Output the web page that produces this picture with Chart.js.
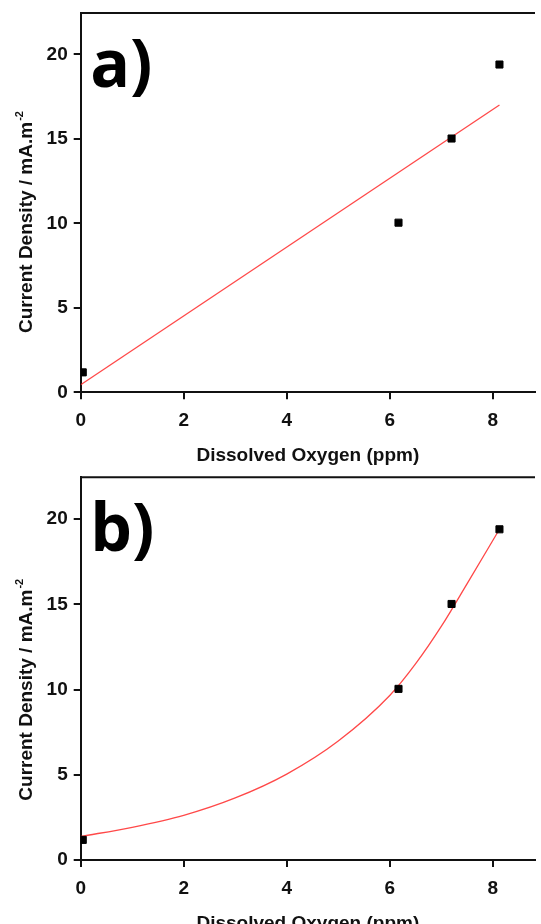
<!DOCTYPE html>
<html>
<head>
<meta charset="utf-8">
<title>Current density vs dissolved oxygen</title>
<script src="https://cdn.jsdelivr.net/npm/chart.js@4.4.1/dist/chart.umd.min.js"></script>
<style>
  body { margin: 0; background: #fff; overflow: hidden; }
  canvas { display: block; }
</style>
</head>
<body>
<canvas id="chartA" width="541" height="467"></canvas>
<canvas id="chartB" width="541" height="468"></canvas>
<script>
// values
const xTicks = [0, 2, 4, 6, 8]
const yTicks = [0, 5, 10, 15, 20]
const oxygenPpm = [0.04, 6.17, 7.2, 8.13]
const currentDensity = [1.18, 10.04, 15.02, 19.4]
const linearFitX = [0, 8.13]
const linearFitY = [0.45, 17.0]
const expFitX = [0, 1, 2, 3, 4, 5, 6, 6.5, 7, 7.5, 8.13]
const expFitY = [1.38, 1.92, 2.62, 3.64, 5.04, 6.98, 9.65, 11.5, 13.7, 16.2, 19.4]

const FONT = "'Liberation Sans', Arial, sans-serif"
const INK = '#111'

const toPoints = (xs, ys) => xs.map((x, i) => ({ x, y: ys[i] }))

// top frame, panel letter and the y title (with superscript)
const panelDecor = {
  id: 'panelDecor',
  afterDraw(chart, args, opts) {
    const { ctx, chartArea: { left, right, top, bottom } } = chart
    ctx.save()

    ctx.strokeStyle = INK
    ctx.lineWidth = 2
    ctx.beginPath()
    ctx.moveTo(left, top)
    ctx.lineTo(right, top)
    ctx.stroke()

    ctx.fillStyle = '#000'
    ctx.font = "bold 66px 'Open Sans', sans-serif"
    ctx.textBaseline = 'alphabetic'
    ctx.textAlign = 'left'
    ctx.fillText(opts.letter, left + 9.5, top + 73.5)

    ctx.translate(32, bottom - 59.3)
    ctx.rotate(-Math.PI / 2)
    ctx.fillStyle = INK
    ctx.font = 'bold 19px ' + FONT
    const main = 'Current Density / mA.m'
    ctx.fillText(main, 0, 0)
    const w = ctx.measureText(main).width
    ctx.font = 'bold 11px ' + FONT
    ctx.fillText('-2', w + 1, -9)

    ctx.restore()
  },
}

const makePanel = (id, fitX, fitY, letter, padTop, xAxisHeight) => new Chart(document.getElementById(id), {
  type: 'scatter',
  data: {
    datasets: [
      {
        data: toPoints(oxygenPpm, currentDensity),
        pointStyle: 'rect',
        pointRadius: 5,
        backgroundColor: '#000',
        borderColor: '#000',
        borderWidth: 1,
        order: 0,
      },
      {
        data: toPoints(fitX, fitY),
        showLine: true,
        borderColor: 'rgba(255, 40, 40, 0.85)',
        borderWidth: 1.3,
        pointRadius: 0,
        cubicInterpolationMode: 'monotone',
        order: 1,
      },
    ],
  },
  options: {
    responsive: false,
    animation: false,
    events: [],
    layout: { padding: { top: padTop, left: 0, right: 0, bottom: 0 } },
    plugins: {
      legend: { display: false },
      tooltip: { enabled: false },
      panelDecor: { letter },
    },
    scales: {
      x: {
        type: 'linear',
        min: 0,
        max: 8.82,
        afterBuildTicks: (s) => { s.ticks = xTicks.map((v) => ({ value: v })) },
        afterFit: (s) => { s.height = xAxisHeight; s.paddingLeft = 0; s.paddingRight = 0 },
        border: { display: true, color: INK, width: 2 },
        grid: { drawOnChartArea: false, drawTicks: true, tickLength: 7, color: INK, lineWidth: 2 },
        ticks: { color: INK, font: { family: FONT, size: 19, weight: 'bold' }, padding: 10, maxRotation: 0 },
        title: {
          display: true,
          text: 'Dissolved Oxygen (ppm)',
          color: INK,
          font: { family: FONT, size: 19, weight: 'bold' },
          padding: { top: 0, bottom: 0 },
        },
      },
      y: {
        type: 'linear',
        min: 0,
        max: 22.45,
        afterBuildTicks: (s) => { s.ticks = yTicks.map((v) => ({ value: v })) },
        afterFit: (s) => { s.width = 80.7; s.paddingTop = 0; s.paddingBottom = 0 },
        border: { display: true, color: INK, width: 2 },
        grid: { drawOnChartArea: false, drawTicks: true, tickLength: 7, color: INK, lineWidth: 2 },
        ticks: { color: INK, font: { family: FONT, size: 19, weight: 'bold' }, padding: 6 },
      },
    },
  },
  plugins: [panelDecor],
})

makePanel('chartA', linearFitX, linearFitY, 'a)', 13, 74.7)
makePanel('chartB', expFitX, expFitY, 'b)', 10.3, 75)
</script>
</body>
</html>
